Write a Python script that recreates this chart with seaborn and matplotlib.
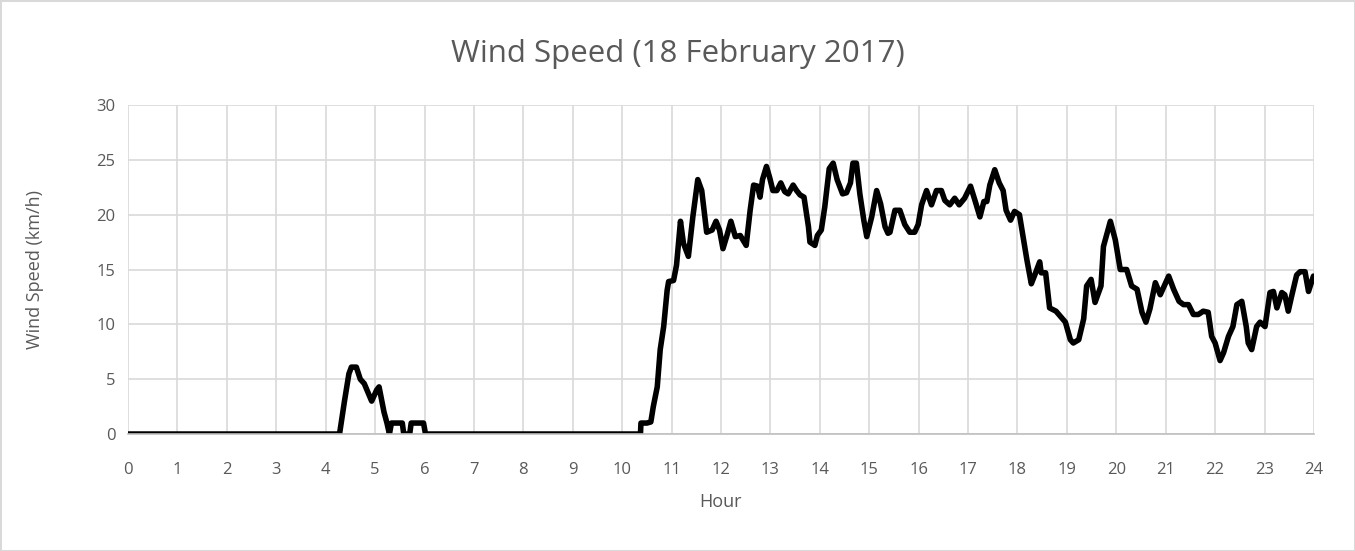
import pandas as pd
import seaborn as sns
import matplotlib.pyplot as plt

# values (hour of day, km/h)
hours = [
    0, 4.28, 4.38, 4.47, 4.52, 4.62, 4.70, 4.78, 4.93, 5.03, 5.08, 5.18, 5.24, 5.29,
    5.33, 5.55, 5.58, 5.70, 5.73, 5.98, 6.02,
    10.37, 10.38, 10.50, 10.58, 10.63, 10.71, 10.77, 10.84, 10.91, 10.94, 11.04, 11.10,
    11.18, 11.24, 11.34, 11.43, 11.53, 11.61, 11.71, 11.82, 11.90, 11.97, 12.04, 12.12,
    12.20, 12.29, 12.39, 12.51, 12.59, 12.66, 12.74, 12.79, 12.84, 12.92, 12.99, 13.05,
    13.13, 13.21, 13.29, 13.36, 13.46, 13.53, 13.60, 13.68, 13.77, 13.80, 13.90, 13.95,
    14.03, 14.10, 14.19, 14.27, 14.35, 14.46, 14.54, 14.62, 14.67,
    14.74, 14.81, 14.89, 14.95, 15.05, 15.15, 15.23, 15.32, 15.38, 15.42, 15.52, 15.62,
    15.72, 15.82, 15.92, 15.99, 16.06, 16.16, 16.26, 16.36, 16.46, 16.53, 16.63, 16.73,
    16.82, 16.93, 17.05, 17.14, 17.24, 17.32, 17.38, 17.44, 17.54, 17.63, 17.71, 17.77,
    17.86, 17.94, 18.04, 18.11, 18.19, 18.28, 18.35, 18.45, 18.48, 18.57, 18.65, 18.78,
    18.97, 19.07, 19.13, 19.24, 19.34, 19.40, 19.49, 19.57, 19.69, 19.74, 19.88, 19.98,
    20.08, 20.21, 20.31, 20.42, 20.52, 20.60, 20.68, 20.79, 20.89, 21.06, 21.16, 21.27,
    21.36, 21.46, 21.56, 21.66, 21.76, 21.86, 21.93, 22.00, 22.10, 22.17, 22.27, 22.36,
    22.44, 22.54, 22.63, 22.67, 22.74, 22.84, 22.91, 23.01, 23.11, 23.18, 23.25, 23.35,
    23.41, 23.48, 23.55, 23.65, 23.72, 23.82, 23.89, 23.99,
]
speed = [
    0, 0, 3.0, 5.5, 6.1, 6.1, 5.0, 4.6, 3.0, 4.0, 4.3, 2.0, 1.0, 0,
    1.0, 1.0, 0, 0, 1.0, 1.0, 0,
    0, 1.0, 1.0, 1.1, 2.5, 4.3, 7.7, 9.8, 13.1, 13.9, 14.0, 15.4,
    19.4, 17.4, 16.2, 19.8, 23.2, 22.2, 18.4, 18.6, 19.4, 18.6, 16.9, 18.1,
    19.4, 18.0, 18.1, 17.2, 20.4, 22.7, 22.6, 21.6, 23.2, 24.4, 23.3, 22.2,
    22.2, 22.9, 22.1, 21.9, 22.7, 22.2, 21.8, 21.6, 18.9, 17.5, 17.2, 18.1,
    18.6, 20.7, 24.2, 24.7, 23.2, 21.9, 22.0, 22.9, 24.7,
    24.7, 21.9, 19.5, 18.0, 19.8, 22.2, 21.0, 18.9, 18.3, 18.4, 20.4, 20.4,
    19.1, 18.4, 18.4, 19.1, 20.9, 22.2, 20.9, 22.2, 22.2, 21.3, 20.9, 21.5,
    20.9, 21.5, 22.6, 21.3, 19.8, 21.2, 21.2, 22.7, 24.1, 22.9, 22.2, 20.4,
    19.5, 20.3, 20.0, 18.1, 15.9, 13.7, 14.5, 15.7, 14.7, 14.7, 11.5, 11.2,
    10.2, 8.6, 8.3, 8.6, 10.5, 13.5, 14.1, 12.0, 13.5, 17.1, 19.4, 17.7,
    15.0, 15.0, 13.5, 13.2, 11.1, 10.2, 11.4, 13.8, 12.7, 14.4, 13.2, 12.1,
    11.8, 11.8, 10.9, 10.9, 11.2, 11.1, 8.9, 8.3, 6.7, 7.4, 8.9, 9.8,
    11.8, 12.1, 9.8, 8.3, 7.7, 9.8, 10.2, 9.8, 12.9, 13.0, 11.5, 12.9,
    12.7, 11.2, 12.6, 14.5, 14.8, 14.8, 13.0, 14.4,
]

df = pd.DataFrame({"hour": hours, "speed": speed})

grey_text = "#595959"
grid_col = "#d9d9d9"

sns.set_theme(style="whitegrid")
plt.rcParams["font.family"] = ["Open Sans", "DejaVu Sans"]

fig = plt.figure(figsize=(13.55, 5.51), dpi=100, edgecolor=grid_col, linewidth=2)
ax = fig.add_axes([0.0945, 0.2123, 0.8752, 0.5971])

sns.lineplot(data=df, x="hour", y="speed", color="black", linewidth=4,
             estimator=None, ax=ax)

ax.set_xlim(0, 24)
ax.set_ylim(0, 30)
ax.set_xticks(range(0, 25))
ax.set_yticks(range(0, 31, 5))
ax.grid(True, color=grid_col, linewidth=1.2)
ax.tick_params(axis="x", length=0, pad=20, labelsize=12, labelcolor=grey_text)
ax.tick_params(axis="y", length=0, pad=9, labelsize=12, labelcolor=grey_text)

for side in ["left", "right", "top"]:
    ax.spines[side].set_visible(False)
ax.spines["bottom"].set_color("#bfbfbf")
ax.spines["bottom"].set_linewidth(1.2)

ax.set_xlabel("Hour", fontsize=13, color=grey_text, labelpad=11)
ax.set_ylabel("Wind Speed (km/h)", fontsize=13, color=grey_text, labelpad=38)
fig.suptitle("Wind Speed (18 February 2017)", fontsize=22.5, color=grey_text, y=0.93)

plt.savefig("out.png", dpi=100)
